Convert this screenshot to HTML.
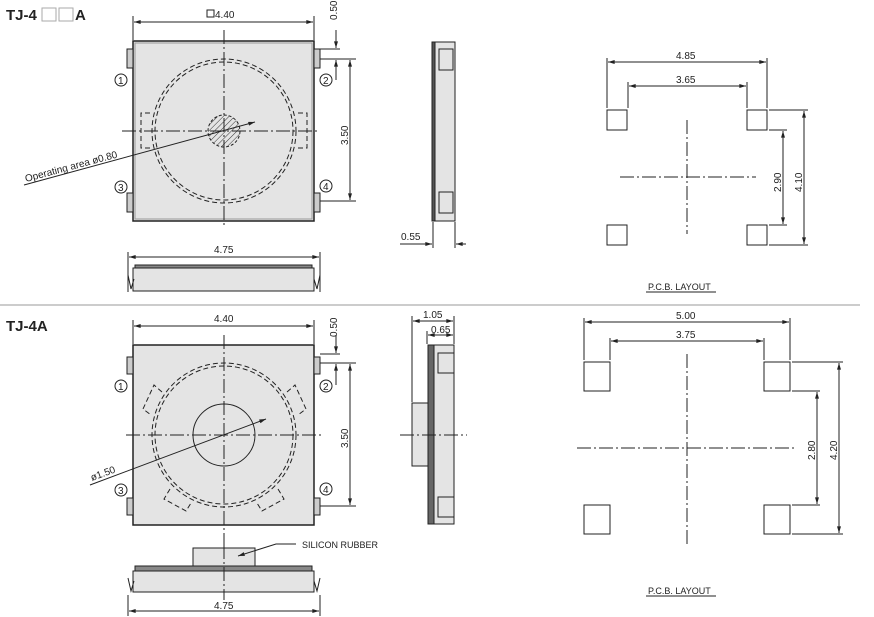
<!DOCTYPE html>
<html><head><meta charset="utf-8"><style>
html,body{margin:0;padding:0;background:#fff;}
svg{display:block;}
text{font-family:"Liberation Sans",sans-serif;fill:#222;}
.d{font-size:10px;}
</style></head><body>
<svg width="874" height="617" viewBox="0 0 874 617" xmlns="http://www.w3.org/2000/svg">
<defs>
<marker id="a" viewBox="0 0 10 6" refX="10" refY="3" markerWidth="8" markerHeight="4" orient="auto-start-reverse"><path d="M0,0L10,3L0,6z" fill="#222"/></marker>
<pattern id="h" width="4" height="4" patternUnits="userSpaceOnUse" patternTransform="rotate(45)"><line x1="0" y1="0" x2="0" y2="4" stroke="#333" stroke-width="1"/></pattern>
</defs>
<g stroke="#222" stroke-width="1" fill="none">
<text x="6" y="20" style="font-size:15px;font-weight:bold" stroke="none">TJ-4</text>
<rect x="42" y="8" width="14" height="13" fill="#fff" stroke="#aaa"/>
<rect x="59" y="8" width="14" height="13" fill="#fff" stroke="#aaa"/>
<text x="75" y="20" style="font-size:15px;font-weight:bold" stroke="none">A</text>

<rect x="133" y="41" width="181" height="180" fill="#e4e4e4" stroke-width="1.5"/>
<rect x="135" y="43" width="177" height="176" stroke="#999"/>
<rect x="127" y="49" width="6" height="19" fill="#ccc"/>
<rect x="127" y="193" width="6" height="19" fill="#ccc"/>
<rect x="314" y="49" width="6" height="19" fill="#ccc"/>
<rect x="314" y="193" width="6" height="19" fill="#ccc"/>
<g stroke-dasharray="5,3">
<circle cx="224" cy="131" r="72"/><circle cx="224" cy="131" r="69"/>
<path d="M150,113 H141 V148 H150 M298,113 H307 V148 H298"/>
</g>
<circle cx="224" cy="131" r="16" fill="url(#h)" stroke-dasharray="3,2"/>
<g stroke-dasharray="14,3,2,3"><line x1="224" y1="30" x2="224" y2="228"/><line x1="122" y1="131" x2="320" y2="131"/></g>
<line x1="24" y1="185" x2="255" y2="122" marker-end="url(#a)"/>
<text x="26" y="182" class="d" transform="rotate(-15 26 182)" stroke="none">Operating  area  ø0.80</text>
<circle cx="121" cy="80" r="6"/><text x="118" y="84" class="d" stroke="none">1</text>
<circle cx="326" cy="80" r="6"/><text x="323" y="84" class="d" stroke="none">2</text>
<circle cx="121" cy="187" r="6"/><text x="118" y="191" class="d" stroke="none">3</text>
<circle cx="326" cy="186" r="6"/><text x="323" y="190" class="d" stroke="none">4</text>
<line x1="133" y1="16" x2="133" y2="40"/><line x1="314" y1="16" x2="314" y2="40"/>
<line x1="134" y1="22" x2="313" y2="22" marker-start="url(#a)" marker-end="url(#a)"/>
<rect x="207" y="10" width="7" height="7"/><text x="215" y="18" class="d" stroke="none">4.40</text>
<text x="337" y="20" class="d" transform="rotate(-90 337 20)" stroke="none">0.50</text>
<line x1="320" y1="49" x2="340" y2="49"/><line x1="320" y1="59" x2="356" y2="59"/><line x1="320" y1="201" x2="356" y2="201"/>
<line x1="336" y1="30" x2="336" y2="48" marker-end="url(#a)"/><line x1="336" y1="80" x2="336" y2="60" marker-end="url(#a)"/>
<line x1="350" y1="60" x2="350" y2="200" marker-start="url(#a)" marker-end="url(#a)"/>
<text x="348" y="145" class="d" transform="rotate(-90 348 145)" stroke="none">3.50</text>
<line x1="128" y1="252" x2="128" y2="292"/><line x1="320" y1="252" x2="320" y2="292"/>
<line x1="129" y1="257" x2="319" y2="257" marker-start="url(#a)" marker-end="url(#a)"/>
<text x="214" y="253" class="d" stroke="none">4.75</text>
<rect x="135" y="265" width="177" height="4" fill="#888"/>
<rect x="133" y="268" width="181" height="23" fill="#e4e4e4"/>
<path d="M128,275 l3,14 l3,-10 M320,275 l-3,14 l-3,-10"/>
<rect x="432" y="42" width="23" height="179" fill="#e4e4e4"/>
<rect x="432" y="42" width="3" height="179" fill="#555"/>
<rect x="439" y="49" width="14" height="21"/><rect x="439" y="192" width="14" height="21"/>
<line x1="433" y1="222" x2="433" y2="248"/><line x1="455" y1="222" x2="455" y2="248"/>
<line x1="400" y1="244" x2="432" y2="244" marker-end="url(#a)"/><line x1="466" y1="244" x2="456" y2="244" marker-end="url(#a)"/>
<text x="401" y="240" class="d" stroke="none">0.55</text>
<rect x="607" y="110" width="20" height="20"/><rect x="747" y="110" width="20" height="20"/>
<rect x="607" y="225" width="20" height="20"/><rect x="747" y="225" width="20" height="20"/>
<line x1="607" y1="58" x2="607" y2="108"/><line x1="767" y1="58" x2="767" y2="108"/>
<line x1="628" y1="82" x2="628" y2="108"/><line x1="747" y1="82" x2="747" y2="108"/>
<line x1="608" y1="62" x2="766" y2="62" marker-start="url(#a)" marker-end="url(#a)"/>
<line x1="629" y1="86" x2="746" y2="86" marker-start="url(#a)" marker-end="url(#a)"/>
<text x="676" y="59" class="d" stroke="none">4.85</text><text x="676" y="83" class="d" stroke="none">3.65</text>
<g stroke-dasharray="14,3,2,3"><line x1="687" y1="120" x2="687" y2="234"/><line x1="620" y1="177" x2="756" y2="177"/></g>
<line x1="769" y1="110" x2="808" y2="110"/><line x1="769" y1="245" x2="808" y2="245"/>
<line x1="769" y1="130" x2="787" y2="130"/><line x1="769" y1="225" x2="787" y2="225"/>
<line x1="783" y1="131" x2="783" y2="224" marker-start="url(#a)" marker-end="url(#a)"/>
<line x1="804" y1="111" x2="804" y2="244" marker-start="url(#a)" marker-end="url(#a)"/>
<text x="781" y="192" class="d" transform="rotate(-90 781 192)" stroke="none">2.90</text>
<text x="802" y="192" class="d" transform="rotate(-90 802 192)" stroke="none">4.10</text>
<text x="648" y="290" style="font-size:9px" stroke="none">P.C.B.  LAYOUT</text>
<line x1="646" y1="292" x2="716" y2="292"/>

<line x1="0" y1="305" x2="860" y2="305" stroke="#999"/>

<text x="6" y="331" style="font-size:15px;font-weight:bold" stroke="none">TJ-4A</text>
<rect x="133" y="345" width="181" height="180" fill="#e4e4e4" stroke-width="1.5"/>
<rect x="127" y="357" width="6" height="17" fill="#ccc"/><rect x="127" y="498" width="6" height="17" fill="#ccc"/>
<rect x="314" y="357" width="6" height="17" fill="#ccc"/><rect x="314" y="498" width="6" height="17" fill="#ccc"/>
<g stroke-dasharray="5,3">
<circle cx="224" cy="435" r="72"/><circle cx="224" cy="435" r="69"/>
<path d="M162,392 l-8,-7 l-11,24 l8,6 M287,392 l8,-7 l11,24 l-8,6 M170,489 l-6,10 l22,12 l5,-8 M278,489 l6,10 l-22,12 l-5,-8"/>
</g>
<circle cx="224" cy="435" r="31" fill="#e4e4e4"/>
<g stroke-dasharray="14,3,2,3"><line x1="224" y1="335" x2="224" y2="580"/><line x1="126" y1="435" x2="322" y2="435"/></g>
<line x1="90" y1="485" x2="266" y2="419" marker-end="url(#a)"/>
<text x="92" y="481" class="d" transform="rotate(-20 92 481)" stroke="none">ø1.50</text>
<circle cx="121" cy="386" r="6"/><text x="118" y="390" class="d" stroke="none">1</text>
<circle cx="326" cy="386" r="6"/><text x="323" y="390" class="d" stroke="none">2</text>
<circle cx="121" cy="490" r="6"/><text x="118" y="494" class="d" stroke="none">3</text>
<circle cx="326" cy="489" r="6"/><text x="323" y="493" class="d" stroke="none">4</text>
<line x1="133" y1="320" x2="133" y2="344"/><line x1="314" y1="320" x2="314" y2="344"/>
<line x1="134" y1="326" x2="313" y2="326" marker-start="url(#a)" marker-end="url(#a)"/>
<text x="214" y="322" class="d" stroke="none">4.40</text>
<text x="337" y="337" class="d" transform="rotate(-90 337 337)" stroke="none">0.50</text>
<line x1="320" y1="354" x2="340" y2="354"/><line x1="320" y1="363" x2="356" y2="363"/><line x1="320" y1="506" x2="356" y2="506"/>
<line x1="336" y1="335" x2="336" y2="353" marker-end="url(#a)"/><line x1="336" y1="385" x2="336" y2="364" marker-end="url(#a)"/>
<line x1="350" y1="364" x2="350" y2="505" marker-start="url(#a)" marker-end="url(#a)"/>
<text x="348" y="448" class="d" transform="rotate(-90 348 448)" stroke="none">3.50</text>
<rect x="193" y="548" width="62" height="19" fill="#e4e4e4"/>
<rect x="135" y="566" width="177" height="5" fill="#888"/>
<rect x="133" y="571" width="181" height="21" fill="#e4e4e4"/>
<path d="M128,578 l3,13 l3,-10 M320,578 l-3,13 l-3,-10"/>
<line x1="224" y1="545" x2="224" y2="600" stroke-dasharray="14,3,2,3"/>
<path d="M296,544 H276 L238,556" marker-end="url(#a)"/>
<text x="302" y="548" style="font-size:9px" stroke="none">SILICON  RUBBER</text>
<line x1="128" y1="595" x2="128" y2="616"/><line x1="320" y1="595" x2="320" y2="616"/>
<line x1="129" y1="611" x2="319" y2="611" marker-start="url(#a)" marker-end="url(#a)"/>
<text x="214" y="609" class="d" stroke="none">4.75</text>
<rect x="412" y="403" width="16" height="63" fill="#e4e4e4"/>
<rect x="428" y="345" width="26" height="179" fill="#e4e4e4"/>
<rect x="428" y="345" width="6" height="179" fill="#666"/>
<rect x="438" y="353" width="16" height="20"/><rect x="438" y="497" width="16" height="20"/>
<line x1="400" y1="435" x2="467" y2="435" stroke-dasharray="14,3,2,3"/>
<line x1="412" y1="316" x2="412" y2="402"/><line x1="454" y1="316" x2="454" y2="344"/><line x1="427" y1="331" x2="427" y2="344"/>
<line x1="413" y1="321" x2="453" y2="321" marker-start="url(#a)" marker-end="url(#a)"/>
<line x1="428" y1="335" x2="453" y2="335" marker-start="url(#a)" marker-end="url(#a)"/>
<text x="423" y="318" class="d" stroke="none">1.05</text><text x="431" y="333" class="d" stroke="none">0.65</text>
<rect x="584" y="362" width="26" height="29"/><rect x="764" y="362" width="26" height="29"/>
<rect x="584" y="505" width="26" height="29"/><rect x="764" y="505" width="26" height="29"/>
<line x1="584" y1="318" x2="584" y2="360"/><line x1="790" y1="318" x2="790" y2="360"/>
<line x1="610" y1="338" x2="610" y2="360"/><line x1="764" y1="338" x2="764" y2="360"/>
<line x1="585" y1="322" x2="789" y2="322" marker-start="url(#a)" marker-end="url(#a)"/>
<line x1="611" y1="341" x2="763" y2="341" marker-start="url(#a)" marker-end="url(#a)"/>
<text x="676" y="319" class="d" stroke="none">5.00</text><text x="676" y="338" class="d" stroke="none">3.75</text>
<g stroke-dasharray="14,3,2,3"><line x1="687" y1="354" x2="687" y2="546"/><line x1="577" y1="448" x2="795" y2="448"/></g>
<line x1="792" y1="362" x2="843" y2="362"/><line x1="792" y1="534" x2="843" y2="534"/>
<line x1="792" y1="391" x2="820" y2="391"/><line x1="792" y1="505" x2="820" y2="505"/>
<line x1="817" y1="392" x2="817" y2="504" marker-start="url(#a)" marker-end="url(#a)"/>
<line x1="839" y1="363" x2="839" y2="533" marker-start="url(#a)" marker-end="url(#a)"/>
<text x="815" y="460" class="d" transform="rotate(-90 815 460)" stroke="none">2.80</text>
<text x="837" y="460" class="d" transform="rotate(-90 837 460)" stroke="none">4.20</text>
<text x="648" y="594" style="font-size:9px" stroke="none">P.C.B.  LAYOUT</text>
<line x1="646" y1="596" x2="716" y2="596"/>
</g>
</svg>
</body></html>
